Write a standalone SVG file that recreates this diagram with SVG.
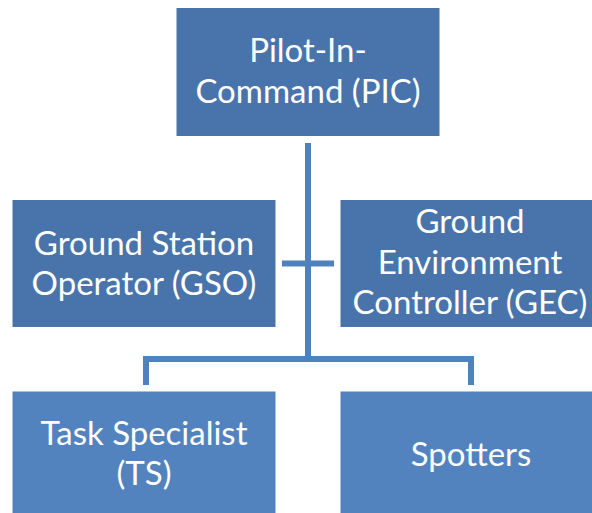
<svg xmlns="http://www.w3.org/2000/svg" width="592" height="513" viewBox="0 0 592 513">
<style>
.dk{fill:#4874ab;stroke:#ffffff;stroke-width:1}
.lt{fill:#5383be;stroke:#ffffff;stroke-width:1}
.t{font-family:Lato,"Open Sans","Liberation Sans",sans-serif;font-size:33px;fill:#ffffff;text-anchor:middle}
.c{stroke:#4f81bd;stroke-width:6;fill:none}
</style>
<rect width="592" height="513" fill="#ffffff"/>
<g id="connectors">
<line class="c" x1="308" y1="143" x2="308" y2="362"/>
<line class="c" x1="282" y1="263.5" x2="334" y2="263.5"/>
<polyline class="c" points="146,385 146,359 471,359 471,385"/>
</g>
<g id="pic">
<rect class="dk" x="176" y="7.5" width="264" height="129"/>
<text class="t" x="308" y="62">Pilot-In-</text>
<text class="t" x="308" y="103">Command (PIC)</text>
</g>
<g id="gso">
<rect class="dk" x="12" y="199.5" width="264" height="128"/>
<text class="t" x="144" y="255">Ground Station</text>
<text class="t" x="144" y="295">Operator (GSO)</text>
</g>
<g id="gec">
<rect class="dk" x="340" y="199.5" width="256" height="128"/>
<text class="t" x="470" y="233">Ground</text>
<text class="t" x="470" y="274">Environment</text>
<text class="t" x="470" y="314">Controller (GEC)</text>
</g>
<g id="ts">
<rect class="lt" x="12" y="391" width="264" height="128"/>
<text class="t" x="144" y="445">Task Specialist</text>
<text class="t" x="144" y="485">(TS)</text>
</g>
<g id="spotters">
<rect class="lt" x="340" y="391" width="256" height="128"/>
<text class="t" x="471" y="466">Spotters</text>
</g>
</svg>
